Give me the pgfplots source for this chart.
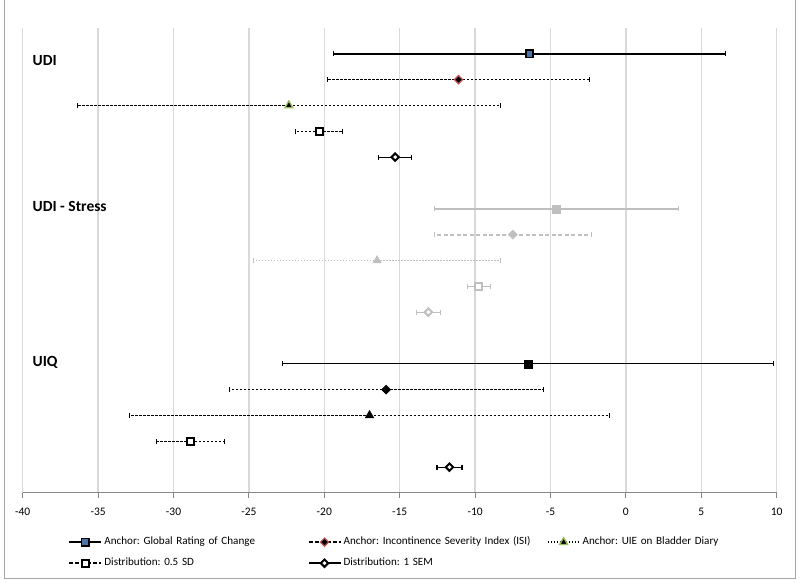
\documentclass[border=0pt]{standalone}
\usepackage{fontspec}
\setmainfont{Carlito}
\usepackage{pgfplots}
\pgfplotsset{compat=1.18}
\frenchspacing

\definecolor{gridgray}{HTML}{D9D9D9}
\definecolor{axisgray}{HTML}{868686}
\definecolor{framegray}{HTML}{A6A6A6}
\definecolor{udiblue}{HTML}{4A72A8}
\definecolor{isired}{HTML}{C0504D}
\definecolor{uiegreen}{HTML}{9BBB59}
\definecolor{stress}{HTML}{BFBFBF}

% error bar caps
\pgfplotsset{
  cap/.style={error bars/error mark options={rotate=90, solid, mark size=2.5pt, line width=#1}},
}

\begin{document}
\begin{tikzpicture}
\useasboundingbox (0,0) rectangle (800pt,585pt);
\draw[framegray, line width=1pt] (4pt,600pt) -- (4pt,6pt) -- (795pt,6pt) -- (795pt,600pt);
\begin{axis}[
  at={(22.7pt,92pt)}, anchor=south west,
  scale only axis, width=754pt, height=465pt,
  xmin=-40, xmax=10, ymin=0, ymax=18,
  axis y line=none, axis x line*=bottom,
  x axis line style={-, axisgray, line width=1pt},
  xtick={-40,-35,...,10},
  xtick align=outside, major tick length=5pt,
  tick style={axisgray, line width=1pt},
  xmajorgrids, major grid style={gridgray, line width=1.3pt},
  ticklabel style={font=\fontsize{11.5}{13}\selectfont},
  xticklabel style={yshift=-7pt},
  /pgf/number format/assume math mode=true,
  clip=false,
  legend columns=3,
  legend style={draw=none, fill=none, inner sep=0pt,
    at={(0.0601,-0.0941)}, anchor=north west,
    font=\fontsize{11.1}{13}\selectfont,
    nodes={inner sep=0pt, text height=8pt, text depth=2.5pt, text width=203pt, align=left},
    row sep=10.5pt,
    /tikz/every odd column/.append style={column sep=2pt}},
  legend image code/.code={\draw[mark repeat=2,mark phase=2,#1] plot coordinates {(0pt,0pt) (16pt,0pt) (32pt,0pt)};},
]

% UDI
\addplot[black, line width=2.2pt, mark=square*, mark size=3.6pt,
  mark options={solid, fill=udiblue, draw=black, line width=1.5pt},
  error bars/.cd, x dir=both, x explicit,
  error bar style={black, solid, line width=2pt}]
  [cap=1.5pt] coordinates {(-6.4,17) +- (13.0,0)};
\addlegendentry{Anchor: Global Rating of Change}

\addplot[black, line width=2pt, dash pattern=on 4pt off 2pt, mark=square*, mark size=2.9pt,
  mark options={solid, rotate=45, fill=black, draw=isired, line width=1.2pt},
  error bars/.cd, x dir=both, x explicit,
  error bar style={black, line width=0.9pt, dash pattern=on 2.5pt off 1.5pt}]
  [cap=0.9pt] coordinates {(-11.1,16) +- (8.7,0)};
\addlegendentry{Anchor: Incontinence Severity Index (ISI)}

\addplot[black, line width=2pt, dash pattern=on 1.5pt off 1.5pt, mark=triangle*, mark size=4.6pt,
  mark options={solid, fill=black, draw=uiegreen, line width=1.3pt},
  error bars/.cd, x dir=both, x explicit,
  error bar style={black, line width=0.9pt, dash pattern=on 2.5pt off 1.5pt}]
  [cap=0.9pt] coordinates {(-22.35,15) +- (14.05,0)};
\addlegendentry{Anchor: UIE on Bladder Diary}

\addplot[black, line width=2pt, dash pattern=on 4pt off 2pt, mark=square*, mark size=3.5pt,
  mark options={solid, fill=white, draw=black, line width=2pt},
  error bars/.cd, x dir=both, x explicit,
  error bar style={black, line width=0.9pt, dash pattern=on 2.5pt off 1.5pt}]
  [cap=0.9pt] coordinates {(-20.35,14) +- (1.55,0)};
\addlegendentry{Distribution: 0.5 SD}

\addplot[black, line width=2.2pt, mark=square*, mark size=2.6pt,
  mark options={solid, rotate=45, fill=white, draw=black, line width=2pt},
  error bars/.cd, x dir=both, x explicit,
  error bar style={black, solid, line width=1.3pt}]
  [cap=1.3pt] coordinates {(-15.3,13) +- (1.1,0)};
\addlegendentry{Distribution: 1 SEM}

% UDI - Stress
\addplot[forget plot, stress, mark=square*, mark size=4pt,
  mark options={solid, fill=stress, draw=stress, line width=0.5pt},
  error bars/.cd, x dir=both, x explicit,
  error bar style={stress, solid, line width=1.5pt}]
  [cap=1.2pt] coordinates {(-4.6,11) +- (8.1,0)};
\addplot[forget plot, stress, mark=square*, mark size=3.2pt,
  mark options={solid, rotate=45, fill=stress, draw=stress, line width=0.5pt},
  error bars/.cd, x dir=both, x explicit,
  error bar style={stress, line width=2pt, dash pattern=on 4pt off 2.5pt}]
  [cap=1.2pt] coordinates {(-7.5,10) +- (5.2,0)};
\addplot[forget plot, stress, mark=triangle*, mark size=4.8pt,
  mark options={solid, fill=stress, draw=stress, line width=0.5pt},
  error bars/.cd, x dir=both, x explicit,
  error bar style={stress, line width=1.8pt, dash pattern=on 1.5pt off 1.5pt}]
  [cap=1.2pt] coordinates {(-16.5,9) +- (8.2,0)};
\addplot[forget plot, stress, mark=square*, mark size=3.5pt,
  mark options={solid, fill=white, draw=stress, line width=2pt},
  error bars/.cd, x dir=both, x explicit,
  error bar style={stress, solid, line width=1pt}]
  [cap=1pt] coordinates {(-9.75,8) +- (0.75,0)};
\addplot[forget plot, stress, mark=square*, mark size=2.7pt,
  mark options={solid, rotate=45, fill=white, draw=stress, line width=2pt},
  error bars/.cd, x dir=both, x explicit,
  error bar style={stress, solid, line width=1pt}]
  [cap=1pt] coordinates {(-13.1,7) +- (0.8,0)};

% UIQ
\addplot[forget plot, black, mark=square*, mark size=4pt,
  mark options={solid, fill=black, draw=black, line width=0.5pt},
  error bars/.cd, x dir=both, x explicit,
  error bar style={black, solid, line width=1.2pt}]
  [cap=1pt] coordinates {(-6.48,5) +- (16.28,0)};
\addplot[forget plot, black, mark=square*, mark size=3.2pt,
  mark options={solid, rotate=45, fill=black, draw=black, line width=0.5pt},
  error bars/.cd, x dir=both, x explicit,
  error bar style={black, line width=0.9pt, dash pattern=on 2.5pt off 1.5pt}]
  [cap=0.9pt] coordinates {(-15.9,4) +- (10.4,0)};
\addplot[forget plot, black, mark=triangle*, mark size=5pt,
  mark options={solid, fill=black, draw=black, line width=0.5pt},
  error bars/.cd, x dir=both, x explicit,
  error bar style={black, line width=0.9pt, dash pattern=on 2.5pt off 1.5pt}]
  [cap=0.9pt] coordinates {(-17.0,3) +- (15.9,0)};
\addplot[forget plot, black, mark=square*, mark size=3.5pt,
  mark options={solid, fill=white, draw=black, line width=2pt},
  error bars/.cd, x dir=both, x explicit,
  error bar style={black, line width=0.9pt, dash pattern=on 2.5pt off 1.5pt}]
  [cap=0.9pt] coordinates {(-28.85,2) +- (2.25,0)};
\addplot[forget plot, black, mark=square*, mark size=2.6pt,
  mark options={solid, rotate=45, fill=white, draw=black, line width=2pt},
  error bars/.cd, x dir=both, x explicit,
  error bar style={black, solid, line width=1.3pt}]
  [cap=1.3pt] coordinates {(-11.7,1) +- (0.83,0)};

% group labels
\node[anchor=west, inner sep=0pt, font=\bfseries\fontsize{15.5}{18}\selectfont] at (axis cs:-39.35,16.75) {UDI};
\node[anchor=west, inner sep=0pt, font=\bfseries\fontsize{15.5}{18}\selectfont] at (axis cs:-39.35,11.1) {UDI - Stress};
\node[anchor=west, inner sep=0pt, font=\bfseries\fontsize{15.5}{18}\selectfont] at (axis cs:-39.35,5.05) {UIQ};
\end{axis}
\end{tikzpicture}
\end{document}
